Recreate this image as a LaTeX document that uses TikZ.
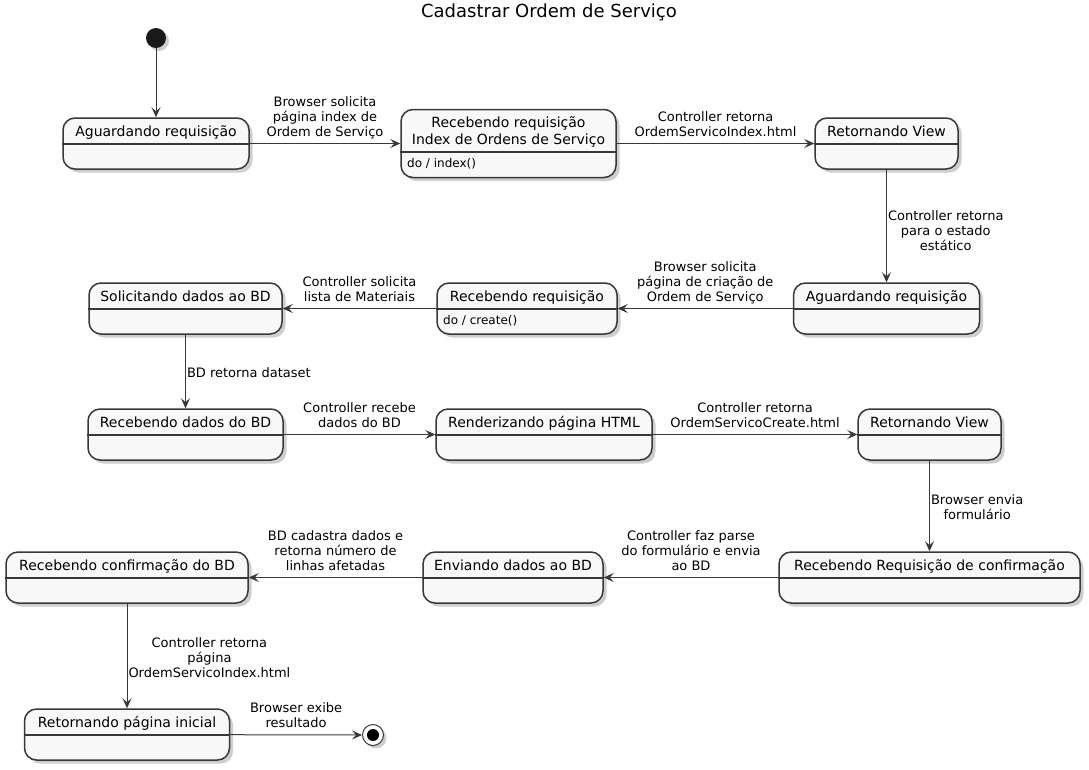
\documentclass[tikz,border=0pt]{standalone}
\usepackage{fontspec}
\setmainfont{DejaVu Sans}
\usepackage{tikz}
\usetikzlibrary{arrows.meta,positioning,shadows}
\definecolor{umlLine}{HTML}{383838}
\definecolor{umlFill}{HTML}{F8F8F8}

\begin{document}
\begin{tikzpicture}[x=1pt, y=-1pt,
  state/.style={draw=umlLine, fill=umlFill, line width=1.5pt, rounded corners=12pt, inner sep=0pt,
    drop shadow={shadow xshift=3.5pt, shadow yshift=-3.5pt, opacity=0.35, fill=black!55}},
  sname/.style={font=\fontsize{14}{16.6}\selectfont, anchor=base, inner sep=0pt, align=center},
  sdo/.style={font=\fontsize{12}{14}\selectfont, anchor=base west, inner sep=0pt},
  divider/.style={draw=umlLine, line width=1.5pt},
  trans/.style={draw=umlLine, line width=1pt, -{Stealth[length=10pt, width=9pt, inset=4pt]}},
  lbl/.style={font=\fontsize{13}{15}\selectfont, align=center, inner sep=2.5pt, execute at end node=\strut},
]
  \useasboundingbox (0,0) rectangle (1089,769);
  \node[font=\fontsize{18}{21}\selectfont] (title) at (549,12) {Cadastrar Ordem de Serviço};

  % Start and end
  \node[circle, fill=black!90, minimum size=20pt, inner sep=0pt,
    drop shadow={shadow xshift=3pt, shadow yshift=-3pt, opacity=0.35, fill=black!55}] (init) at (156,38) {};
  \node[circle, draw=umlLine, line width=1pt, fill=white, minimum size=21pt, inner sep=0pt,
    drop shadow={shadow xshift=3pt, shadow yshift=-3pt, opacity=0.35, fill=black!55}] (final) at (373,735) {};
  \node[circle, fill=black, minimum size=12pt, inner sep=0pt] (finaldot) at (final) {};

  % States
  \node[state, minimum width=186pt, minimum height=51pt] (s1) at (156,143.5) {};
  \node[state, minimum width=215pt, minimum height=68pt] (s2) at (508.5,143.5) {};
  \node[state, minimum width=143pt, minimum height=51pt] (s3) at (886.5,143.5) {};
  \node[state, minimum width=186pt, minimum height=51pt] (s4) at (886.5,308.5) {};
  \node[state, minimum width=180pt, minimum height=51pt] (s5) at (527,308.5) {};
  \node[state, minimum width=193pt, minimum height=51pt] (s6) at (185.5,308.5) {};
  \node[state, minimum width=195pt, minimum height=51pt] (s7) at (185.5,434.5) {};
  \node[state, minimum width=216pt, minimum height=51pt] (s8) at (544,434.5) {};
  \node[state, minimum width=143pt, minimum height=51pt] (s9) at (929.5,434.5) {};
  \node[state, minimum width=301pt, minimum height=51pt] (s10) at (929.5,577.5) {};
  \node[state, minimum width=180pt, minimum height=51pt] (s11) at (513,577.5) {};
  \node[state, minimum width=242pt, minimum height=51pt] (s12) at (127,577.5) {};
  \node[state, minimum width=205pt, minimum height=51pt] (s13) at (127,734.5) {};

  % Dividers
  \draw[divider] (s1.west |- 0,144) -- (s1.east |- 0,144);
  \draw[divider] (s2.west |- 0,152) -- (s2.east |- 0,152);
  \draw[divider] (s3.west |- 0,144) -- (s3.east |- 0,144);
  \draw[divider] (s4.west |- 0,309) -- (s4.east |- 0,309);
  \draw[divider] (s5.west |- 0,309) -- (s5.east |- 0,309);
  \draw[divider] (s6.west |- 0,309) -- (s6.east |- 0,309);
  \draw[divider] (s7.west |- 0,435) -- (s7.east |- 0,435);
  \draw[divider] (s8.west |- 0,435) -- (s8.east |- 0,435);
  \draw[divider] (s9.west |- 0,435) -- (s9.east |- 0,435);
  \draw[divider] (s10.west |- 0,578) -- (s10.east |- 0,578);
  \draw[divider] (s11.west |- 0,578) -- (s11.east |- 0,578);
  \draw[divider] (s12.west |- 0,578) -- (s12.east |- 0,578);
  \draw[divider] (s13.west |- 0,735) -- (s13.east |- 0,735);

  % State names
  \node[sname] (n1) at (156,136) {Aguardando requisição};
  \node[sname] (n2) at (508.5,144.3) {Recebendo requisição\\Index de Ordens de Serviço};
  \node[sname] (n3) at (886.5,136) {Retornando View};
  \node[sname] (n4) at (886.5,301) {Aguardando requisição};
  \node[sname] (n5) at (527,301) {Recebendo requisição};
  \node[sname] (n6) at (185.5,301) {Solicitando dados ao BD};
  \node[sname] (n7) at (185.5,427) {Recebendo dados do BD};
  \node[sname] (n8) at (544,427) {Renderizando página HTML};
  \node[sname] (n9) at (929.5,427) {Retornando View};
  \node[sname] (n10) at (929.5,570) {Recebendo Requisição de confirmação};
  \node[sname] (n11) at (513,570) {Enviando dados ao BD};
  \node[sname] (n12) at (127,570) {Recebendo confirmação do BD};
  \node[sname] (n13) at (127,727) {Retornando página inicial};
  \node[sdo] (d2) at (407,167) {do / index()};
  \node[sdo] (d5) at (443,324) {do / create()};

  % Transitions
  \draw[trans] (init) -- (s1);
  \draw[trans] (s1) -- (s2) node[lbl, midway, above] {Browser solicita\\página index de\\Ordem de Serviço};
  \draw[trans] (s2) -- (s3) node[lbl, midway, above] {Controller retorna\\OrdemServicoIndex.html};
  \draw[trans] (s3) -- (s4) node[lbl, midway, right, inner sep=1pt, yshift=-7pt] {Controller retorna\\para o estado\\estático};
  \draw[trans] (s4) -- (s5) node[lbl, midway, above] {Browser solicita\\página de criação de\\Ordem de Serviço};
  \draw[trans] (s5) -- (s6) node[lbl, midway, above] {Controller solicita\\lista de Materiais};
  \draw[trans] (s6) -- (s7) node[lbl, midway, right, inner sep=1pt, yshift=-3pt] {BD retorna dataset};
  \draw[trans] (s7) -- (s8) node[lbl, midway, above] {Controller recebe\\dados do BD};
  \draw[trans] (s8) -- (s9) node[lbl, midway, above] {Controller retorna\\OrdemServicoCreate.html};
  \draw[trans] (s9) -- (s10) node[lbl, midway, right, inner sep=1pt, yshift=-3pt] {Browser envia\\formulário};
  \draw[trans] (s10) -- (s11) node[lbl, midway, above] {Controller faz parse\\do formulário e envia\\ao BD};
  \draw[trans] (s11) -- (s12) node[lbl, midway, above] {BD cadastra dados e\\retorna número de\\linhas afetadas};
  \draw[trans] (s12) -- (s13) node[lbl, midway, right, inner sep=1pt, yshift=-4pt] {Controller retorna\\página\\OrdemServicoIndex.html};
  \draw[trans] (s13) -- (final) node[lbl, midway, above] {Browser exibe\\resultado};
\end{tikzpicture}
\end{document}
